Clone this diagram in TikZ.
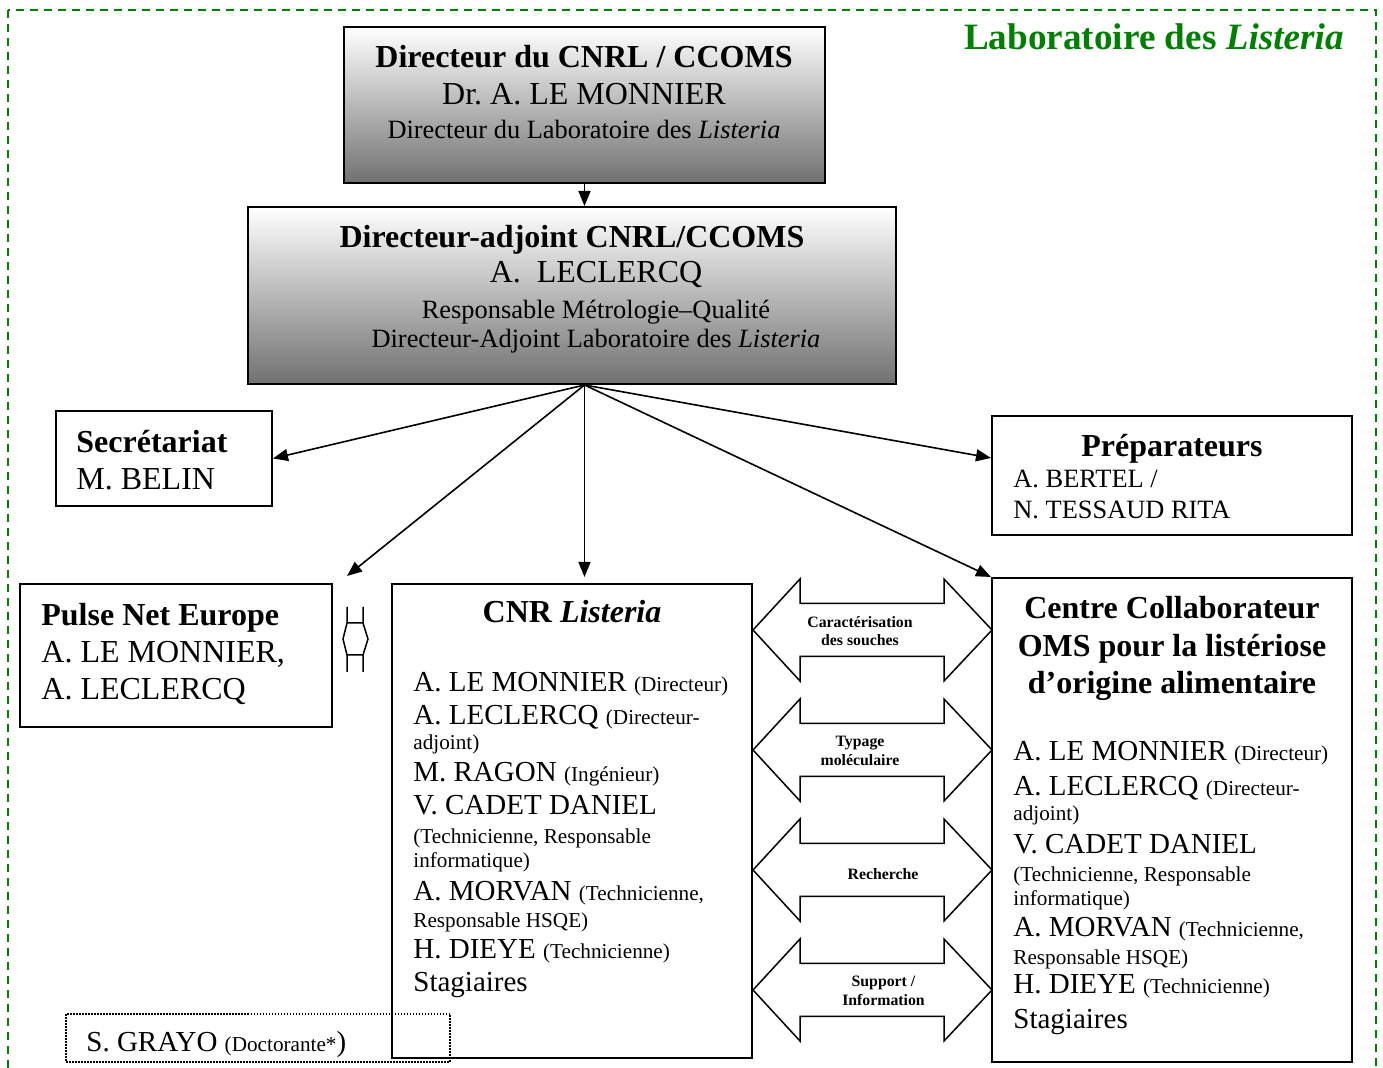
\documentclass[tikz,border=0pt]{standalone}
\usepackage{fontspec}
\setmainfont{Liberation Serif}
\usetikzlibrary{arrows.meta, positioning, fit}
\definecolor{vertlabo}{RGB}{0,128,0}
\frenchspacing
% Tailles de police
\newcommand{\tgrand}{\fontsize{16}{18.5}\selectfont}
\newcommand{\tnom}{\fontsize{14.5}{16.5}\selectfont}
\newcommand{\tmoyen}{\fontsize{13.2}{15.5}\selectfont}
\newcommand{\tpetit}{\fontsize{10.6}{12}\selectfont}
\newcommand{\tfleche}{\fontsize{7.9}{9.2}\selectfont}

\begin{document}
\begin{tikzpicture}[x=0.5pt, y=-0.5pt,
        % Style des blocs de direction (degrade)
        dirbox/.style={
            draw=black,
            line width=1pt,
            top color=white,
            bottom color=black!56,
            inner sep=0pt
        },
        % Style des blocs simples
        block/.style={
            draw=black,
            line width=1pt,
            fill=white,
            inner sep=0pt
        },
        % Style des textes
        txt/.style={
            inner sep=0pt,
            align=left
        },
        % Style des fleches
        fleche/.style={
            line width=0.8pt,
            -{Triangle[length=7.5pt, width=6pt]}
        },
        % Style des grosses fleches doubles
        blocfleche/.style={
            draw=black,
            line width=0.75pt,
            fill=white,
            line join=miter
        },
        % Style des legendes dans les fleches
        legende/.style={
            inner sep=0pt,
            align=center,
            font=\tfleche\bfseries
        }
    ]

        \useasboundingbox (0,0) rectangle (1383,1068);

        % Cadre du laboratoire
        \draw[vertlabo, line width=1pt, dash pattern=on 4pt off 3pt] (8,10) rectangle (1376,1100);
        \node[anchor=base east, inner sep=0pt, text=vertlabo,
              font=\fontsize{18.6}{20}\selectfont\bfseries] (titre) at (1344,50) {Laboratoire des \textit{Listeria}};

        % --- BLOCS ---
        \node[dirbox, fit={(344,27) (825,183)}] (dir) {};
        \node[txt, align=center, anchor=north, font=\tgrand] (dirtxt) at (584,45)
            {\textbf{Directeur du CNRL / CCOMS}\\Dr. A. LE MONNIER\\[-1.5pt]{\tmoyen Directeur du Laboratoire des \textit{Listeria}}};

        \node[dirbox, fit={(248,207) (896,384)}] (adj) {};
        \node[txt, align=center, anchor=north, font=\fontsize{16}{17.5}\selectfont] (adjtxt) at (572,225)
            {\textbf{Directeur-adjoint CNRL/CCOMS}\\\hspace*{24pt}A.\ \ LECLERCQ\\[0.5pt]
             {\tmoyen\hspace*{24pt}Responsable Métrologie–Qualité}\\[-3pt]
             {\tmoyen\hspace*{24pt}Directeur-Adjoint Laboratoire des \textit{Listeria}}};
        \coordinate (depart) at (adj.south -| dir.south);

        \node[block, fit={(56,411) (272,506)}] (secr) {};
        \node[txt, anchor=north west, font=\tgrand] (secrtxt) at (76,430) {\textbf{Secrétariat}\\M. BELIN};

        \node[block, fit={(992,416) (1352,535)}] (prep) {};
        \node[anchor=base, inner sep=0pt, font=\tgrand\bfseries] (preptitre) at (1172,457) {Préparateurs};
        \node[txt, anchor=north west, font=\tmoyen] (preptxt) at (1013,470) {A. BERTEL /\\N. TESSAUD RITA};

        \node[block, fit={(20,584) (332,727)}] (pulse) {};
        \node[txt, anchor=north west, font=\tgrand] (pulsetxt) at (41,603)
            {\textbf{Pulse Net Europe}\\A. LE MONNIER,\\A. LECLERCQ};

        \node[block, fit={(392,584) (752,1058)}] (cnr) {};
        \node[anchor=base, inner sep=0pt, font=\tgrand\bfseries] (cnrtitre) at (572,623) {CNR \textit{Listeria}};
        \node[txt, anchor=north west, font=\tnom] (cnrtxt) at (413,672)
            {A. LE MONNIER {\tpetit (Directeur)}\\
             A. LECLERCQ {\tpetit (Directeur-}\\[-4pt]
             {\tpetit adjoint)}\\[-0.3pt]
             M. RAGON {\tpetit (Ingénieur)}\\
             V. CADET DANIEL\\[-2pt]
             {\tpetit (Technicienne, Responsable}\\[-4.6pt]
             {\tpetit informatique)}\\[-0.2pt]
             A. MORVAN {\tpetit (Technicienne,}\\[-3pt]
             {\tpetit Responsable HSQE)}\\[-0.8pt]
             H. DIEYE {\tpetit (Technicienne)}\\
             Stagiaires};

        \node[block, fit={(992,578) (1352,1062)}] (ccoms) {};
        \node[txt, align=center, anchor=north, font=\fontsize{16}{18.75}\selectfont\bfseries] (ccomstitre) at (1172,596)
            {Centre Collaborateur\\OMS pour la listériose\\d’origine alimentaire};
        \node[txt, anchor=north west, font=\tnom] (ccomstxt) at (1013,741)
            {A. LE MONNIER {\tpetit (Directeur)}\\[1pt]
             A. LECLERCQ {\tpetit (Directeur-}\\[-4pt]
             {\tpetit adjoint)}\\[-0.3pt]
             V. CADET DANIEL\\[-2.3pt]
             {\tpetit (Technicienne, Responsable}\\[-4.6pt]
             {\tpetit informatique)}\\[-1pt]
             A. MORVAN {\tpetit (Technicienne,}\\[-2.3pt]
             {\tpetit Responsable HSQE)}\\[-1.8pt]
             H. DIEYE {\tpetit (Technicienne)}\\[1pt]
             Stagiaires};

        \node[draw=black, line width=0.75pt, dash pattern=on 0.75pt off 0.75pt, inner sep=0pt,
              fit={(66,1014) (450,1062)}] (grayo) {};
        \node[anchor=base west, inner sep=0pt, font=\tnom] (grayotxt) at (86,1051.7)
            {S. GRAYO {\tpetit (Doctorante*}{)}};

        % --- FLECHES DOUBLES ---
        \foreach \y in {630,750,870,990}
            \draw[blocfleche] (753,\y) -- (800,\y-51) -- (800,\y-26.5) -- (944,\y-26.5) -- (944,\y-51)
                -- (992,\y) -- (944,\y+51) -- (944,\y+26.5) -- (800,\y+26.5) -- (800,\y+51) -- cycle;
        \node[legende, anchor=north] (carac) at (860,616) {Caractérisation\\des souches};
        \node[legende, anchor=north] (typage) at (860,736) {Typage\\moléculaire};
        \node[legende, anchor=base] (recherche) at (883,880) {Recherche};
        \node[legende, anchor=north] (support) at (883.5,976) {Support /\\Information};

        % petite fleche double entre Pulse Net et CNR
        \draw[line width=0.75pt, line join=miter] (347,607) -- (347,623) -- (343,639) -- (347,655) -- (347,672)
            (363,607) -- (363,623) -- (368,639) -- (363,655) -- (363,672)
            (347,623) -- (363,623) (347,655) -- (363,655);

        % --- CONNEXIONS ---
        \draw[fleche] (dir.south) -- (dir.south |- adj.north);
        \draw[fleche] (depart) -- (secr.east);
        \draw[fleche] (depart) -- ([xshift=7pt, yshift=3.5pt]pulse.north east);
        \draw[fleche, shorten >=3pt] (depart) -- (depart |- cnr.north);
        \draw[fleche] (depart) -- (ccoms.north west);
        \draw[fleche] (depart) -- ([yshift=8.75pt]prep.west);

    \end{tikzpicture}
\end{document}
